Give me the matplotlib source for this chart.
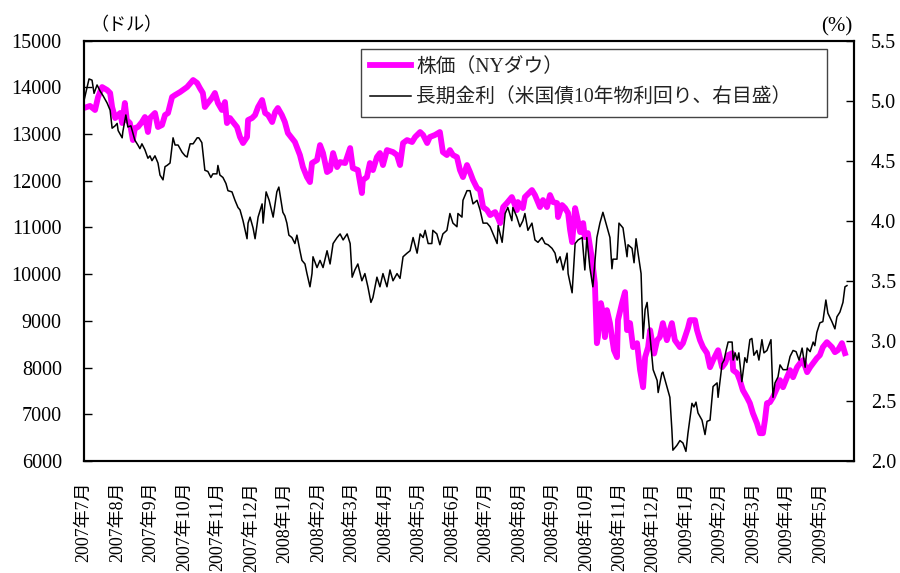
import matplotlib
matplotlib.use('Agg')
import matplotlib.pyplot as plt
import numpy as np
from matplotlib.ticker import FormatStrFormatter

plt.rcParams['font.family'] = ['Liberation Serif', 'Noto Sans CJK JP']

month_labels = ['2007年7月', '2007年8月', '2007年9月', '2007年10月', '2007年11月', '2007年12月',
                '2008年1月', '2008年2月', '2008年3月', '2008年4月', '2008年5月', '2008年6月',
                '2008年7月', '2008年8月', '2008年9月', '2008年10月', '2008年11月', '2008年12月',
                '2009年1月', '2009年2月', '2009年3月', '2009年4月', '2009年5月']

# time in months since start of July 2007
dow_t = [0.00, 0.18, 0.33, 0.42, 0.54, 0.69, 0.78, 0.84, 0.93, 1.08, 1.14, 1.22, 1.28, 1.37, 1.46, 1.52,
         1.61, 1.73, 1.82, 1.91, 1.97, 2.12, 2.21, 2.33, 2.42, 2.51, 2.63, 2.72, 2.87, 3.08, 3.26, 3.38,
         3.46, 3.55, 3.61, 3.70, 3.82, 3.91, 4.00, 4.12, 4.21, 4.27, 4.36, 4.45, 4.57, 4.66, 4.75, 4.87,
         4.90, 5.02, 5.11, 5.20, 5.32, 5.41, 5.50, 5.62, 5.71, 5.79, 5.91, 6.00, 6.09, 6.30, 6.45, 6.54,
         6.66, 6.75, 6.81, 6.96, 7.05, 7.14, 7.26, 7.35, 7.44, 7.56, 7.65, 7.80, 7.95, 8.03, 8.18, 8.30,
         8.33, 8.45, 8.54, 8.63, 8.75, 8.84, 8.93, 9.05, 9.23, 9.35, 9.44, 9.53, 9.65, 9.80, 9.89, 10.04,
         10.13, 10.25, 10.33, 10.48, 10.63, 10.72, 10.84, 10.93, 11.02, 11.14, 11.23, 11.32, 11.44, 11.53,
         11.62, 11.74, 11.83, 11.92, 12.04, 12.13, 12.28, 12.37, 12.43, 12.52, 12.63, 12.78, 12.93, 12.96,
         13.11, 13.17, 13.38, 13.47, 13.62, 13.71, 13.83, 13.92, 14.01, 14.13, 14.16, 14.28, 14.37, 14.46,
         14.52, 14.58, 14.67, 14.73, 14.82, 14.91, 14.96, 15.05, 15.17, 15.26, 15.32, 15.35, 15.44, 15.50,
         15.56, 15.62, 15.71, 15.77, 15.83, 15.92, 15.95, 16.07, 16.16, 16.22, 16.31, 16.40, 16.52, 16.61,
         16.70, 16.76, 16.85, 16.91, 17.03, 17.12, 17.20, 17.29, 17.41, 17.56, 17.65, 17.80, 17.89, 18.04,
         18.10, 18.25, 18.31, 18.40, 18.49, 18.61, 18.70, 18.79, 18.94, 19.06, 19.15, 19.24, 19.36, 19.39,
         19.51, 19.59, 19.68, 19.80, 19.89, 19.98, 20.10, 20.19, 20.28, 20.34, 20.40, 20.49, 20.58, 20.70,
         20.79, 20.88, 21.00, 21.09, 21.18, 21.30, 21.39, 21.48, 21.60, 21.69, 21.78, 21.89, 21.98, 22.07,
         22.19, 22.34, 22.43, 22.52, 22.64, 22.73]
dow = [13555, 13600, 13512, 13790, 14004, 13940, 13876, 13576, 13340, 13448, 13233, 13662, 13298, 13233, 12869, 13126,
       13148, 13255, 13362, 13041, 13340, 13448, 13148, 13191, 13405, 13448, 13790, 13833, 13897, 14004, 14154, 14090,
       13983, 13876, 13576, 13662, 13769, 13876, 13662, 13512, 13683, 13233, 13340, 13255, 13148, 12934, 12805, 12934,
       13298, 13340, 13405, 13576, 13726, 13448, 13405, 13255, 13469, 13555, 13405, 13255, 13019, 12827, 12548, 12291,
       12077, 11970, 12377, 12441, 12762, 12591, 12184, 12227, 12591, 12291, 12398, 12377, 12698, 12270, 12227, 11735,
       12013, 12077, 12377, 12227, 12505, 12591, 12334, 12655, 12612, 12548, 12334, 12805, 12869, 12827, 12934, 13041,
       12977, 12805, 12934, 12977, 13041, 12612, 12548, 12655, 12548, 12505, 12227, 12077, 12334, 12184,
       12013, 11841, 11799, 11435, 11370, 11263, 11328, 11199, 11092, 11435, 11520, 11649, 11370, 11542,
       11413, 11649, 11799, 11692, 11435, 11585, 11435, 11692, 11542, 11520, 11220, 11478, 11413, 11306,
       10942, 10685, 11413, 11220, 10899, 11092, 10792, 10878, 10342, 9807, 8522, 8651, 9379, 9165,
       8651, 9229, 8951, 8651, 8371, 8222, 9015, 9379, 9615, 8801, 8951, 8437, 8522, 7944,
       7580, 8222, 8437, 8801, 8300, 8586, 8651, 8951, 8586, 8951, 8586, 8437, 8522, 8844,
       9015, 9015, 8801, 8586, 8437, 8308, 8008, 8158, 8371, 8008, 8094, 8265, 8308, 7944,
       7879, 7730, 7516, 7366, 7238, 7023, 6809, 6595, 6595, 6873, 7238, 7259, 7366, 7559,
       7730, 7580, 7794, 7944, 7794, 8008, 8094, 8158, 7901, 8008, 8094, 8201, 8265, 8437,
       8544, 8437, 8329, 8372, 8522, 8308]

yld_t = [0.00, 0.09, 0.15, 0.24, 0.30, 0.39, 0.48, 0.57, 0.69, 0.78, 0.84, 0.93, 0.99, 1.02, 1.14, 1.16,
         1.25, 1.31, 1.40, 1.46, 1.52, 1.61, 1.67, 1.73, 1.82, 1.91, 1.97, 2.03, 2.12, 2.21, 2.27, 2.36,
         2.42, 2.48, 2.57, 2.66, 2.72, 2.81, 2.93, 3.02, 3.08, 3.11, 3.17, 3.26, 3.38, 3.43, 3.52, 3.61,
         3.70, 3.79, 3.85, 3.97, 4.00, 4.06, 4.15, 4.24, 4.30, 4.42, 4.51, 4.60, 4.66, 4.75, 4.87, 4.90,
         4.96, 5.05, 5.11, 5.20, 5.32, 5.35, 5.44, 5.53, 5.65, 5.76, 5.82, 5.94, 6.00, 6.06, 6.12, 6.21,
         6.30, 6.36, 6.45, 6.51, 6.60, 6.66, 6.75, 6.81, 6.84, 6.96, 7.05, 7.14, 7.26, 7.35, 7.44, 7.56,
         7.65, 7.74, 7.86, 7.95, 8.01, 8.09, 8.18, 8.30, 8.39, 8.48, 8.57, 8.63, 8.75, 8.84, 8.93, 9.05,
         9.14, 9.23, 9.35, 9.44, 9.53, 9.65, 9.74, 9.83, 9.95, 10.04, 10.13, 10.19, 10.28, 10.39, 10.42,
         10.54, 10.63, 10.72, 10.84, 10.93, 11.02, 11.14, 11.17, 11.29, 11.32, 11.44, 11.53, 11.62, 11.74,
         11.83, 11.92, 12.04, 12.13, 12.22, 12.34, 12.37, 12.49, 12.58, 12.66, 12.78, 12.81, 12.93, 13.02,
         13.11, 13.17, 13.26, 13.38, 13.47, 13.56, 13.68, 13.77, 13.86, 13.98, 14.07, 14.13, 14.22, 14.31,
         14.43, 14.46, 14.58, 14.67, 14.76, 14.88, 14.96, 15.02, 15.11, 15.20, 15.32, 15.41, 15.50, 15.62,
         15.71, 15.77, 15.80, 15.92, 15.98, 16.10, 16.22, 16.25, 16.37, 16.43, 16.49, 16.55, 16.64, 16.70,
         16.76, 16.82, 16.91, 17.00, 17.12, 17.15, 17.26, 17.29, 17.41, 17.50, 17.56, 17.59, 17.71, 17.80,
         17.89, 17.98, 18.04, 18.16, 18.22, 18.28, 18.34, 18.46, 18.55, 18.61, 18.70, 18.79, 18.91, 18.94,
         19.06, 19.12, 19.18, 19.24, 19.36, 19.39, 19.45, 19.51, 19.56, 19.65, 19.74, 19.80, 19.89, 19.95,
         20.01, 20.10, 20.16, 20.25, 20.31, 20.40, 20.52, 20.58, 20.64, 20.73, 20.79, 20.88, 21.00, 21.09,
         21.18, 21.27, 21.36, 21.45, 21.54, 21.60, 21.69, 21.78, 21.83, 21.89, 21.98, 22.07, 22.16, 22.22,
         22.34, 22.43, 22.49, 22.58, 22.67, 22.73, 22.79]
yld = [5.00, 5.11, 5.18, 5.17, 5.06, 5.13, 5.08, 5.04, 4.98, 4.92, 4.77, 4.79, 4.81, 4.75, 4.69, 4.74,
       4.88, 4.78, 4.79, 4.73, 4.67, 4.63, 4.60, 4.64, 4.59, 4.52, 4.54, 4.50, 4.54, 4.48, 4.38, 4.34,
       4.45, 4.46, 4.48, 4.69, 4.63, 4.63, 4.57, 4.54, 4.53, 4.57, 4.64, 4.64, 4.69, 4.69, 4.65, 4.42,
       4.41, 4.36, 4.39, 4.39, 4.46, 4.38, 4.36, 4.31, 4.25, 4.24, 4.17, 4.11, 4.09, 4.00, 3.85, 3.98,
       4.03, 3.94, 3.85, 4.03, 4.14, 3.98, 4.24, 4.17, 4.03, 4.24, 4.28, 4.07, 4.04, 3.98, 3.88, 3.86,
       3.81, 3.88, 3.75, 3.67, 3.64, 3.56, 3.45, 3.56, 3.70, 3.61, 3.67, 3.61, 3.75, 3.64, 3.81, 3.86,
       3.89, 3.84, 3.89, 3.81, 3.53, 3.59, 3.64, 3.50, 3.56, 3.45, 3.32, 3.36, 3.53, 3.45, 3.56, 3.45,
       3.59, 3.50, 3.56, 3.52, 3.70, 3.73, 3.75, 3.86, 3.73, 3.89, 3.86, 3.92, 3.81, 3.81, 3.92,
       3.89, 3.80, 3.89, 3.92, 4.06, 3.98, 3.95, 4.06, 4.03, 4.17, 4.25, 4.25, 4.14, 4.17,
       4.09, 3.98, 3.98, 3.95, 3.89, 3.81, 3.96, 3.82, 4.06, 4.11, 4.00, 4.11, 4.03, 3.95,
       4.00, 4.06, 3.92, 3.98, 3.84, 3.82, 3.86, 3.81, 3.80, 3.77, 3.73, 3.65, 3.70, 3.59,
       3.73, 3.56, 3.40, 3.81, 3.84, 3.86, 3.59, 3.86, 3.61, 3.45, 3.86, 3.98, 4.07, 3.95,
       3.86, 3.60, 3.68, 3.68, 3.98, 3.94, 3.70, 3.80, 3.77, 3.65, 3.85, 3.73, 3.56, 3.02,
       3.26, 3.32, 3.03, 2.76, 2.67, 2.57, 2.73, 2.74, 2.62, 2.53, 2.26, 2.09, 2.13, 2.17,
       2.15, 2.08, 2.23, 2.48, 2.45, 2.49, 2.40, 2.34, 2.22, 2.33, 2.34, 2.62, 2.65, 2.53,
       2.81, 2.84, 2.92, 2.99, 2.99, 2.84, 2.90, 2.84, 2.90, 2.66, 2.86, 2.82, 3.01, 3.02,
       2.88, 2.92, 2.84, 3.01, 2.90, 2.92, 3.01, 2.53, 2.65, 2.70, 2.80, 2.76, 2.76, 2.87,
       2.92, 2.91, 2.84, 2.94, 2.78, 2.94, 2.91, 2.99, 2.96, 3.07, 3.15, 3.16, 3.34, 3.23,
       3.16, 3.10, 3.20, 3.24, 3.32, 3.45, 3.46]

legend_labels = ['株価（NYダウ）', '長期金利（米国債10年物利回り、右目盛）']

fig = plt.figure(figsize=(9, 5.73), dpi=100)
ax1 = fig.add_axes([84/900, 1 - 461/573, 770/900, 420.5/573])
ax2 = ax1.twinx()

l1, = ax1.plot(dow_t, dow, color='#FF00FF', lw=4.2, solid_joinstyle='round')
l2, = ax2.plot(yld_t, yld, color='black', lw=1.1)

ax1.set_xlim(0, 23)
ax1.set_ylim(6000, 15000)
ax1.set_yticks(range(6000, 15001, 1000))
ax2.set_ylim(2.0, 5.5)
ax2.set_yticks(np.arange(2.0, 5.51, 0.5))
ax2.yaxis.set_major_formatter(FormatStrFormatter('%.1f'))

ax1.set_xticks(range(len(month_labels)))
ax1.set_xticklabels(month_labels, rotation=90, fontsize=13, va='top', ha='center')
ax1.tick_params(axis='x', length=0, pad=15)
ax1.tick_params(axis='y', direction='in', length=6, width=1, labelsize=14.5, pad=16)
ax2.tick_params(axis='y', direction='in', length=6, width=1, labelsize=14.5, pad=12)
for ax in (ax1, ax2):
    for s in ax.spines.values():
        s.set_linewidth(1.5)
        s.set_color('black')

leg = ax2.legend([l1, l2], legend_labels, loc='upper left',
                 bbox_to_anchor=(0.360, 0.98, 0.605, 0.0), mode='expand',
                 fontsize=14.2, frameon=True, fancybox=False, edgecolor='#444444', framealpha=1,
                 handlelength=2.1, handletextpad=0.25, labelspacing=0.62, borderaxespad=0,
                 borderpad=0.45)
leg.get_frame().set_linewidth(1)
for txt in leg.get_texts():
    txt.set_color('#222222')

fig.text(0.14, 0.956, '（ドル）', ha='center', va='center', fontsize=13)
fig.text(0.93, 0.953, '(%)', ha='center', va='center', fontsize=15)

fig.savefig('out.png', dpi=100)
